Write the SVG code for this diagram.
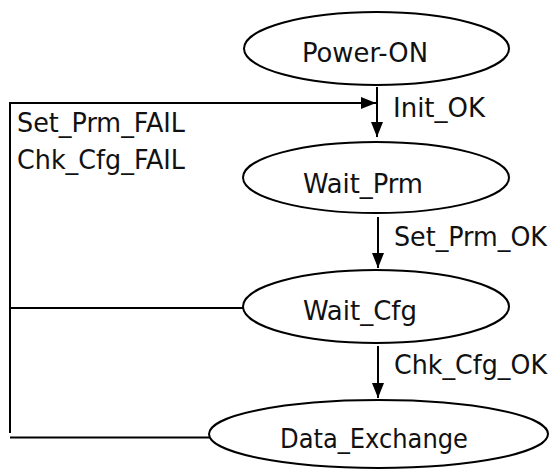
<svg xmlns="http://www.w3.org/2000/svg" width="550" height="469" viewBox="0 0 550 469">
<defs>
<marker id="arr" viewBox="0 0 15 12" refX="15" refY="6" markerWidth="15" markerHeight="12" markerUnits="userSpaceOnUse" orient="auto">
<path d="M0,0 L15,6 L0,12 Z" fill="#000"/>
</marker>
<style>
.node ellipse{fill:#fff;stroke:#000;stroke-width:2}
text{font-family:"DejaVu Sans Condensed","Liberation Sans",sans-serif;font-size:26.5px;fill:#111}
.c{fill:none;stroke:#000;stroke-width:2}
</style>
</defs>
<g id="connectors">
<path class="c" d="M377,87 L377,137" marker-end="url(#arr)"/>
<path class="c" d="M378,217 L378,268" marker-end="url(#arr)"/>
<path class="c" d="M378,346 L378,398" marker-end="url(#arr)"/>
<path class="c" d="M209,437.5 L10,437.5 M10,433 L10,103 L376,103" marker-end="url(#arr)"/>
<path class="c" d="M243,308 L10,308"/>
<text x="393" y="117" textLength="92" lengthAdjust="spacingAndGlyphs">Init_OK</text>
<text x="394" y="246" textLength="153" lengthAdjust="spacingAndGlyphs">Set_Prm_OK</text>
<text x="394" y="374" textLength="153" lengthAdjust="spacingAndGlyphs">Chk_Cfg_OK</text>
<text x="17" y="132" textLength="168" lengthAdjust="spacingAndGlyphs">Set_Prm_FAIL</text>
<text x="17" y="169" textLength="168" lengthAdjust="spacingAndGlyphs">Chk_Cfg_FAIL</text>
</g>
<g id="power-on" class="node">
<ellipse cx="376.5" cy="48.5" rx="132.5" ry="36.5"/>
<text x="302" y="62" textLength="126" lengthAdjust="spacingAndGlyphs">Power-ON</text>
</g>
<g id="wait-prm" class="node">
<ellipse cx="376" cy="177.5" rx="133" ry="35.5"/>
<text x="303" y="193" textLength="120" lengthAdjust="spacingAndGlyphs">Wait_Prm</text>
</g>
<g id="wait-cfg" class="node">
<ellipse cx="376" cy="306.5" rx="133" ry="36.5"/>
<text x="303" y="320" textLength="114" lengthAdjust="spacingAndGlyphs">Wait_Cfg</text>
</g>
<g id="data-exchange" class="node">
<ellipse cx="378.5" cy="434" rx="169.5" ry="34"/>
<text x="280" y="448" textLength="188" lengthAdjust="spacingAndGlyphs">Data_Exchange</text>
</g>
</svg>
